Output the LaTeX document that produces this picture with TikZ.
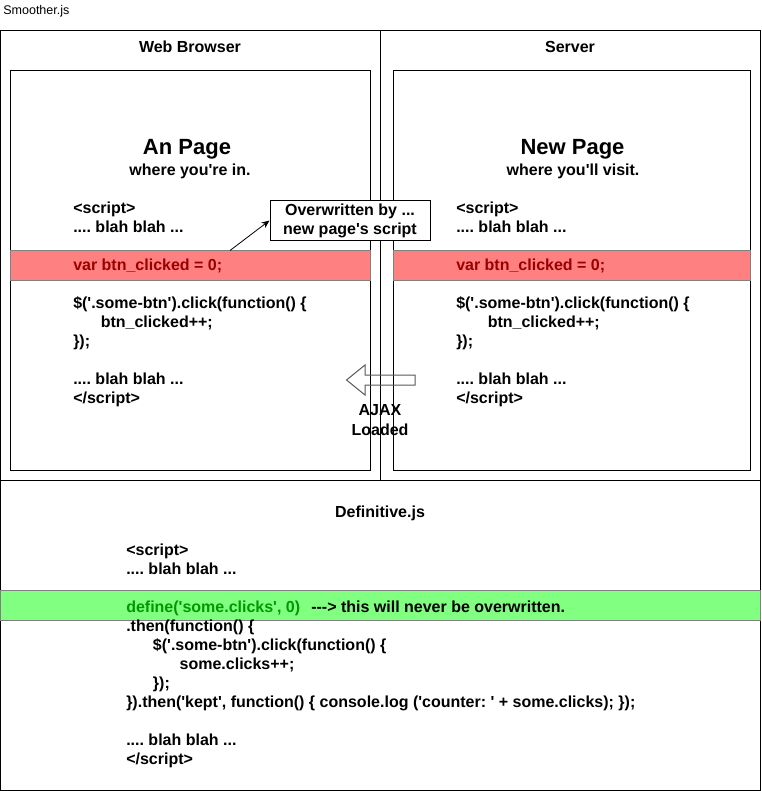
\documentclass[tikz,border=0pt]{standalone}
\usepackage{fontspec}
\newfontfamily\lsans{Liberation Sans}
\usetikzlibrary{arrows.meta}
\definecolor{bandred}{HTML}{FF8080}
\definecolor{txtred}{HTML}{990000}
\definecolor{bandgreen}{HTML}{80FF80}
\definecolor{txtgreen}{HTML}{009900}
\definecolor{bandline}{HTML}{808080}
\definecolor{arrowline}{HTML}{595959}
\frenchspacing
\begin{document}
\begin{tikzpicture}[x=0.75pt,y=-0.75pt,
  every node/.style={inner sep=0pt},
  frame/.style={draw=black,line width=0.75pt},
  band/.style={draw=bandline,line width=0.75pt},
  txt/.style={font=\lsans\bfseries\fontsize{12}{14.4}\selectfont},
  codeline/.style={txt,anchor=base west},
  ctext/.style={txt,anchor=base},
]
\useasboundingbox (0,0) rectangle (761,791);
\fill[white] (0,0) rectangle (761,791);
\node[anchor=base west,font=\lsans\fontsize{9.4}{11}\selectfont] (doc) at (3,15) {Smoother.js};

% frames
\draw[frame] (0.5,30.5) rectangle (760.5,790.5);
\draw[frame] (0.5,480.5) -- (760.5,480.5);
\draw[frame] (380.5,30.5) -- (380.5,480.5);
\draw[frame] (10.5,70.5) rectangle (370.5,470.5);
\draw[frame] (393.5,70.5) rectangle (750.5,470.5);

% bands
\draw[band,fill=bandred] (10.5,250.5) rectangle (370.5,280.5);
\draw[band,fill=bandred] (393.5,250.5) rectangle (750.5,280.5);
\draw[band,fill=bandgreen] (0.5,590.5) rectangle (760.5,620.5);

% titles
\node[ctext] (wb) at (190,52.5) {Web Browser};
\node[ctext] (srv) at (570,52.5) {Server};
\node[ctext,font=\lsans\bfseries\fontsize{16.5}{19.8}\selectfont] (anpage) at (187,154.5) {An Page};
\node[ctext] (anpagesub) at (190,175.5) {where you're in.};
\node[ctext,font=\lsans\bfseries\fontsize{16.5}{19.8}\selectfont] (newpage) at (572.5,154.5) {New Page};
\node[ctext] (newpagesub) at (573,175.5) {where you'll visit.};
\node[ctext] (defjs) at (380,517.5) {Definitive.js};

% left code
\node[codeline] (l1) at (73,213.5) {<script>};
\node[codeline] (l2) at (73,232.5) {.... blah blah ...};
\node[codeline,text=txtred] (l3) at (73,270.5) {var btn\_clicked = 0;};
\node[codeline] (l4) at (73,308.5) {\$('.some-btn').click(function() \{};
\node[codeline] (l5) at (100.5,327.5) {btn\_clicked++;};
\node[codeline] (l6) at (73,346.5) {\});};
\node[codeline] (l7) at (73,384.5) {.... blah blah ...};
\node[codeline] (l8) at (73,403.5) {</script>};

% right code
\node[codeline] (r1) at (456,213.5) {<script>};
\node[codeline] (r2) at (456,232.5) {.... blah blah ...};
\node[codeline,text=txtred] (r3) at (456,270.5) {var btn\_clicked = 0;};
\node[codeline] (r4) at (456,308.5) {\$('.some-btn').click(function() \{};
\node[codeline] (r5) at (487.5,327.5) {btn\_clicked++;};
\node[codeline] (r6) at (456,346.5) {\});};
\node[codeline] (r7) at (456,384.5) {.... blah blah ...};
\node[codeline] (r8) at (456,403.5) {</script>};

% bottom code
\node[codeline] (b1) at (126,555.5) {<script>};
\node[codeline] (b2) at (126,574.5) {.... blah blah ...};
\node[codeline,text=txtgreen] (b3) at (126,612.5) {define('some.clicks', 0)};
\node[codeline] (b3b) at (311,612.5) {---> this will never be overwritten.};
\node[codeline] (b4) at (126,631.5) {.then(function() \{};
\node[codeline] (b5) at (152.7,650.5) {\$('.some-btn').click(function() \{};
\node[codeline] (b6) at (179.4,669.5) {some.clicks++;};
\node[codeline] (b7) at (152.7,688.5) {\});};
\node[codeline] (b8) at (126,707.5) {\}).then('kept', function() \{ console.log ('counter: ' + some.clicks); \});};
\node[codeline] (b9) at (126,745.5) {.... blah blah ...};
\node[codeline] (b10) at (126,764.5) {</script>};

% AJAX block arrow (outline only)
\draw[arrowline,line width=0.75pt,line join=miter]
  (415,375) -- (365,375) -- (365,365) -- (346.5,380) -- (365,395) -- (365,385) -- (415,385) -- cycle;
\node[ctext] (ajax1) at (380,415.5) {AJAX};
\node[ctext] (ajax2) at (380,435.5) {Loaded};

% callout
\node[txt,draw=black,line width=0.75pt,fill=white,minimum width=120pt,minimum height=30pt,align=center] (callout) at (350,220.5) {Overwritten by ...\\new page's script};
\coordinate (ovsrc) at (230,250.5);
\draw[line width=0.6pt,-{Stealth[length=6pt,width=5pt]}] (ovsrc) -- (callout.west);
\end{tikzpicture}
\end{document}
